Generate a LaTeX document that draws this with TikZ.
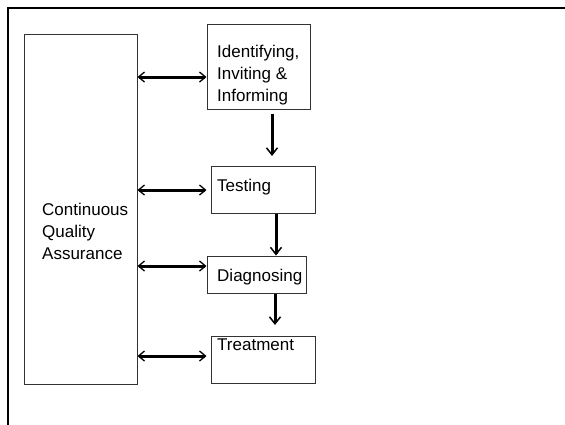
\documentclass[tikz,border=0pt]{standalone}
\usepackage{fontspec}
\setmainfont{Liberation Sans}
\usetikzlibrary{arrows.meta}
\begin{document}
\begin{tikzpicture}[x=1pt,y=-1pt,
  box/.style={draw=black!80,line width=1pt,inner sep=0pt},
  lbl/.style={anchor=west,align=left,inner sep=0pt,font=\fontsize{17}{22}\selectfont},
  biarrow/.style={line width=3pt,{Straight Barb[length=6pt,width=10pt,line width=1.3pt]}-{Straight Barb[length=6pt,width=10pt,line width=1.3pt]}},
  downarrow/.style={line width=3pt,-{Straight Barb[length=7pt,width=11pt,line width=1.5pt]}}]
\useasboundingbox (0,0) rectangle (565,424);
% outer frame (left and top edges)
\coordinate (fl) at (8,430);
\coordinate (fc) at (8,8);
\coordinate (fr) at (570,8);
\draw[line width=2.5pt] (fl) -- (fc) -- (fr);
% boxes
\node[box,minimum width=113pt,minimum height=350pt] (cqa) at (80.5,209) {};
\node[box,minimum width=103pt,minimum height=85pt] (ident) at (258.5,66.5) {};
\node[box,minimum width=104pt,minimum height=47pt] (test) at (263,189.5) {};
\node[box,minimum width=99pt,minimum height=37pt] (diag) at (256.5,274.5) {};
\node[box,minimum width=104pt,minimum height=47pt] (treat) at (263,359.5) {};
% labels
\node[lbl] (tcqa) at (42,231) {Continuous\\Quality\\Assurance};
\node[lbl] (tident) at (217,75) {Identifying,\\Inviting \&\\Informing};
\node[lbl] (ttest) at (217,187) {Testing};
\node[lbl] (tdiag) at (217,277) {Diagnosing};
\node[lbl] (ttreat) at (217,345) {Treatment};
% double arrows
\draw[biarrow] (cqa.east |- 0,77) -- (ident.west |- 0,77);
\draw[biarrow] (cqa.east |- 0,190) -- (ident.west |- 0,190);
\draw[biarrow] (cqa.east |- 0,266) -- (ident.west |- 0,266);
\draw[biarrow] (cqa.east |- 0,356) -- (ident.west |- 0,356);
% down arrows
\coordinate (a1s) at (272,114);
\coordinate (a1e) at (272,156);
\draw[downarrow] (a1s) -- (a1e);
\draw[downarrow] (test.south -| 276,0) -- (diag.north -| 276,0);
\coordinate (a3e) at (275,325);
\draw[downarrow] (diag.south -| 275,0) -- (a3e);
\end{tikzpicture}
\end{document}
